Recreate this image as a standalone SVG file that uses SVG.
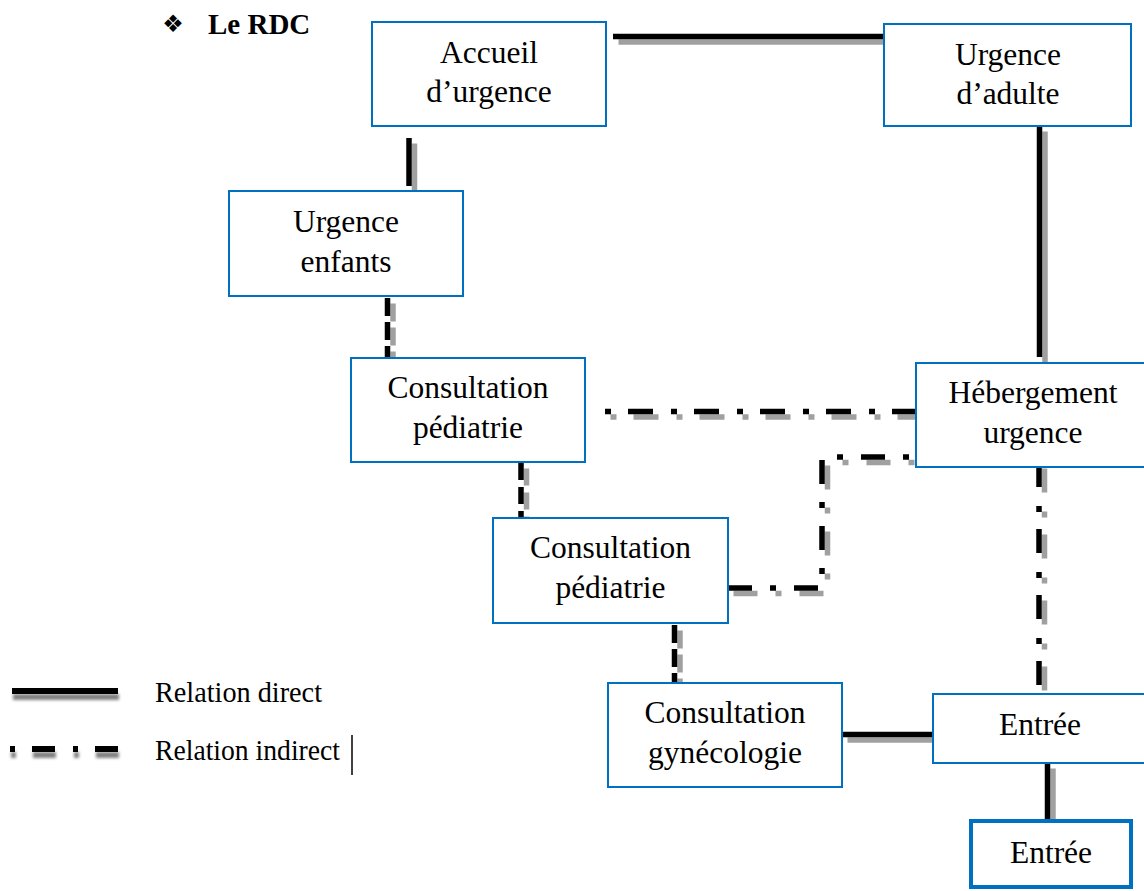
<svg xmlns="http://www.w3.org/2000/svg" xmlns:xlink="http://www.w3.org/1999/xlink" width="1144" height="891" viewBox="0 0 1144 891">
<style>
.box{fill:#fff;stroke:#0070C0;stroke-width:2}
.boxb{fill:#fff;stroke:#0070C0;stroke-width:4}
.lbl{font-family:"Liberation Serif","Times New Roman",serif;font-size:31.5px;fill:#000;text-anchor:middle}
.leg{font-family:"Liberation Serif","Times New Roman",serif;font-size:29px;fill:#000}
.ln{fill:none;stroke:#000;stroke-width:5.5}
.sh{fill:none;stroke:#a0a0a0;stroke-width:5.5}
.dsh{stroke-dasharray:18 6}
.dd{stroke-dasharray:6 18 24 18}
</style>
<defs>
<filter id="blur" filterUnits="userSpaceOnUse" x="0" y="670" width="140" height="110"><feGaussianBlur stdDeviation="1.6"/></filter>
<path id="c1" d="M613 36.5H884"/>
<path id="c2" d="M409 138V186"/>
<path id="c3" d="M387.5 298V358" class="dsh"/>
<path id="c4" d="M521 463V518" class="dsh" style="stroke-dasharray:17 7"/>
<path id="c5" d="M674.5 625V683" class="dsh"/>
<path id="c6" d="M605 411.5H917" style="stroke-dasharray:6 17 25 18"/>
<path id="c7" d="M916 457H822V588H728" class="dd" style="stroke-dashoffset:59"/>
<path id="c8" d="M1039.5 126V357"/>
<path id="c9" d="M1039 463V690" style="stroke-dasharray:24 19 6 17"/>
<path id="c10" d="M842 734.5H933"/>
<path id="c11" d="M1047.5 763V821"/>
</defs>
<g id="title">
<text x="173" y="32" font-family="DejaVu Sans, sans-serif" font-size="24" text-anchor="middle">❖</text>
<text x="208" y="34" font-family="Liberation Serif, serif" font-size="29" font-weight="bold">Le RDC</text>
</g>
<g id="connectors">
<g class="sh" transform="translate(5.5,5.5)">
<use xlink:href="#c1"/><use xlink:href="#c2"/><use xlink:href="#c3"/><use xlink:href="#c4"/><use xlink:href="#c5"/><use xlink:href="#c6"/><use xlink:href="#c7"/><use xlink:href="#c8"/><use xlink:href="#c9"/><use xlink:href="#c10"/><use xlink:href="#c11"/>
</g>
<g class="ln">
<use xlink:href="#c1"/><use xlink:href="#c2"/><use xlink:href="#c3"/><use xlink:href="#c4"/><use xlink:href="#c5"/><use xlink:href="#c6"/><use xlink:href="#c7"/><use xlink:href="#c8"/><use xlink:href="#c9"/><use xlink:href="#c10"/><use xlink:href="#c11"/>
</g>
</g>
<g id="accueil"><rect class="box" x="372" y="22" width="234" height="104"/><text class="lbl" x="489" y="63">Accueil</text><text class="lbl" x="489" y="102">d’urgence</text></g>
<g id="urgence-adulte"><rect class="box" x="884" y="24" width="247" height="102"/><text class="lbl" x="1008" y="65">Urgence</text><text class="lbl" x="1008" y="104">d’adulte</text></g>
<g id="urgence-enfants"><rect class="box" x="229" y="191" width="234" height="105"/><text class="lbl" x="346" y="232">Urgence</text><text class="lbl" x="346" y="272">enfants</text></g>
<g id="consultation-pediatrie-1"><rect class="box" x="351" y="358" width="234" height="104"/><text class="lbl" x="468" y="398">Consultation</text><text class="lbl" x="468" y="438">pédiatrie</text></g>
<g id="hebergement"><rect class="box" x="916" y="363" width="232" height="104"/><text class="lbl" x="1033" y="403">Hébergement</text><text class="lbl" x="1033" y="443">urgence</text></g>
<g id="consultation-pediatrie-2"><rect class="box" x="493" y="518" width="235" height="105"/><text class="lbl" x="610.5" y="558">Consultation</text><text class="lbl" x="610.5" y="598">pédiatrie</text></g>
<g id="consultation-gynecologie"><rect class="box" x="608" y="683" width="234" height="104"/><text class="lbl" x="725" y="723">Consultation</text><text class="lbl" x="725" y="763">gynécologie</text></g>
<g id="entree-1"><rect class="box" x="933" y="694" width="214" height="69"/><text class="lbl" x="1040" y="735">Entrée</text></g>
<g id="entree-2"><rect class="boxb" x="971" y="821" width="160" height="66"/><text class="lbl" x="1051" y="863">Entrée</text></g>
<g id="legend">
<path d="M13 697H119" stroke="#808080" stroke-width="6" filter="url(#blur)"/>
<path d="M12 691H118" stroke="#000" stroke-width="6"/>
<path d="M11 755H119" stroke="#808080" stroke-width="6" stroke-dasharray="5 17 23 18" filter="url(#blur)"/>
<path d="M10 749H118" stroke="#000" stroke-width="6" stroke-dasharray="5 17 23 18"/>
<text class="leg" x="155" y="702" textLength="167" lengthAdjust="spacingAndGlyphs">Relation direct</text>
<text class="leg" x="155" y="760" textLength="185" lengthAdjust="spacingAndGlyphs">Relation indirect</text>
<path d="M352 735V775" stroke="#000" stroke-width="1.5"/>
</g>
</svg>
